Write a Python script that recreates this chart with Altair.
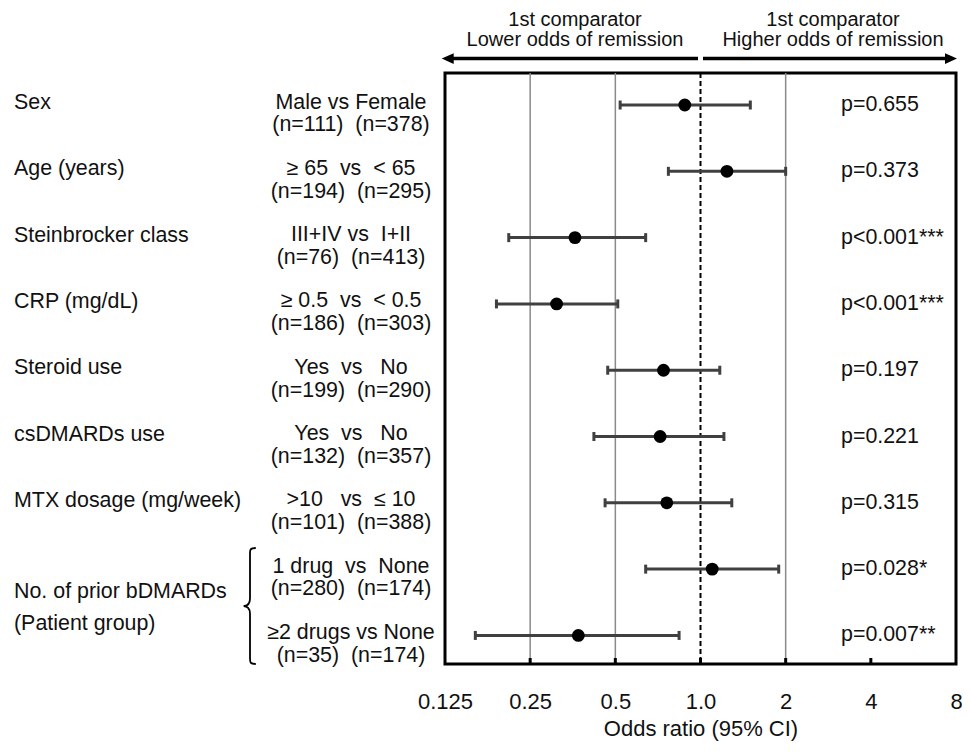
import altair as alt
import pandas as pd

# ---- data ----
rows = [1, 2, 3, 4, 5, 6, 7, 8, 9]
categories = ["Sex", "Age (years)", "Steinbrocker class", "CRP (mg/dL)", "Steroid use",
              "csDMARDs use", "MTX dosage (mg/week)", "", ""]
cmp_line1 = ["Male vs Female", "\u2265 65\u00a0 vs\u00a0 < 65", "III+IV vs\u00a0 I+II",
             "\u2265 0.5\u00a0 vs\u00a0 < 0.5", "Yes\u00a0 vs\u00a0\u00a0 No", "Yes\u00a0 vs\u00a0\u00a0 No",
             ">10\u00a0\u00a0 vs\u00a0 \u2264 10", "1 drug\u00a0 vs\u00a0 None", "\u22652 drugs vs None"]
cmp_line2 = ["(n=111)\u00a0 (n=378)", "(n=194)\u00a0 (n=295)", "(n=76)\u00a0 (n=413)",
             "(n=186)\u00a0 (n=303)", "(n=199)\u00a0 (n=290)", "(n=132)\u00a0 (n=357)",
             "(n=101)\u00a0 (n=388)", "(n=280)\u00a0 (n=174)", "(n=35)\u00a0 (n=174)"]
odds_ratio = [0.88, 1.24, 0.36, 0.31, 0.74, 0.72, 0.76, 1.10, 0.37]
ci_low = [0.52, 0.77, 0.21, 0.19, 0.47, 0.42, 0.46, 0.64, 0.16]
ci_high = [1.50, 2.00, 0.64, 0.51, 1.17, 1.21, 1.29, 1.89, 0.84]
p_values = ["p=0.655", "p=0.373", "p<0.001***", "p<0.001***", "p=0.197", "p=0.221",
            "p=0.315", "p=0.028*", "p=0.007**"]
group_label = ["No. of prior bDMARDs", "\u00a0(Patient group)"]
tick_values = [0.125, 0.25, 0.5, 1, 2, 4, 8]
grid_values = [0.25, 0.5, 2]
inner_ticks = [0.25, 0.5, 1, 2, 4]
ref_value = [1]
top_left = ["1st comparator", "Lower odds of remission"]
top_right = ["1st comparator", "Higher odds of remission"]

df = pd.DataFrame({"row": rows, "cat": categories, "l1": cmp_line1, "l2": cmp_line2,
                   "or": odds_ratio, "lo": ci_low, "hi": ci_high, "p": p_values})

W, H = 511, 591
FONT = "Liberation Sans"
TXT = "#111111"
FS = 21.4

xscale = alt.Scale(type="log", base=2, domain=[0.125, 8], nice=False)
yscale = alt.Scale(domain=[0.517, 9.431], reverse=True, nice=False, zero=False)

xaxis = alt.Axis(values=tick_values, grid=False, ticks=False, domain=False,
                 labelExpr="datum.value == 1 ? '1.0' : '' + datum.value",
                 labelFontSize=22, labelFont=FONT, labelColor=TXT, labelPadding=37,
                 labelBaseline="middle", labelFlush=False, labelOverlap=False,
                 title="Odds ratio (95% CI)", titleFontSize=22, titleFont=FONT,
                 titleFontWeight="normal", titleColor=TXT, titleBaseline="middle", titleY=64)

base = alt.Chart(df)

grid = alt.Chart(pd.DataFrame({"g": grid_values})).mark_rule(
    color="#8a8a8a", strokeWidth=1.5).encode(x=alt.X("g:Q", scale=xscale, axis=xaxis))

ref = alt.Chart(pd.DataFrame({"r": ref_value})).mark_rule(
    color="black", strokeWidth=2, strokeDash=[5, 3]).encode(x=alt.X("r:Q", scale=xscale))

ticks = alt.Chart(pd.DataFrame({"t": inner_ticks})).mark_rule(
    color="black", strokeWidth=3).encode(
    x=alt.X("t:Q", scale=xscale), y=alt.value(H - 6), y2=alt.value(H))

ybar = alt.Y("row:Q", scale=yscale, axis=None)

bars = base.mark_rule(color="#404040", strokeWidth=3).encode(
    x=alt.X("lo:Q", scale=xscale), x2="hi:Q", y=ybar)
cap_lo = base.mark_rule(color="#404040", strokeWidth=3, yOffset=-4.5, y2Offset=4.5).encode(
    x=alt.X("lo:Q", scale=xscale), y=ybar, y2="row:Q")
cap_hi = base.mark_rule(color="#404040", strokeWidth=3, yOffset=-4.5, y2Offset=4.5).encode(
    x=alt.X("hi:Q", scale=xscale), y=ybar, y2="row:Q")
points = base.mark_circle(color="black", size=165, opacity=1).encode(
    x=alt.X("or:Q", scale=xscale), y=ybar)

ptext = base.mark_text(align="left", baseline="middle", fontSize=FS, font=FONT, color=TXT).encode(
    x=alt.value(396), y=ybar, text="p:N")

cat_text = base.mark_text(align="left", baseline="middle", fontSize=FS, font=FONT, color=TXT,
                          yOffset=-2).encode(x=alt.value(-431), y=ybar, text="cat:N")
l1_text = base.mark_text(align="center", baseline="middle", fontSize=FS, font=FONT, color=TXT,
                         yOffset=-2.5).encode(x=alt.value(-94), y=ybar, text="l1:N")
l2_text = base.mark_text(align="center", baseline="middle", fontSize=FS, font=FONT, color=TXT,
                         yOffset=20.3).encode(x=alt.value(-94), y=ybar, text="l2:N")

grp = alt.Chart(pd.DataFrame({"t": group_label, "k": [0, 1]})).mark_text(
    align="left", baseline="middle", fontSize=FS, font=FONT, color=TXT).encode(
    x=alt.value(-431),
    y=alt.Y("k:Q", scale=alt.Scale(domain=[0, 1], range=[519, 551]), axis=None),
    text="t:N")

brace_path = ("M 0.1 -1 C 0 -1 0 -0.97 0 -0.9 L 0 -0.13 C 0 -0.04 -0.05 0 -0.11 0 "
              "C -0.05 0 0 0.04 0 0.13 L 0 0.9 C 0 0.97 0 1 0.1 1")
brace = alt.Chart(pd.DataFrame({"b": [0]})).mark_point(
    shape=brace_path, filled=False, stroke="black", strokeWidth=1.8, opacity=1,
    size=116 * 116).encode(x=alt.value(-195), y=alt.value(533))

# top arrows (gap at the 1.0 reference line)
shaft_l = alt.Chart(pd.DataFrame({"a": [0]})).mark_rule(color="black", strokeWidth=3.5).encode(
    x=alt.value(4), x2=alt.value(253), y=alt.value(-14.4))
shaft_r = alt.Chart(pd.DataFrame({"a": [0]})).mark_rule(color="black", strokeWidth=3.5).encode(
    x=alt.value(258), x2=alt.value(503), y=alt.value(-14.4))
head_l = alt.Chart(pd.DataFrame({"a": [0]})).mark_point(
    shape="M -1 0 L 1 -0.9 L 1 0.9 Z", filled=True, color="black", opacity=1, size=144).encode(
    x=alt.value(2.7), y=alt.value(-14.4))
head_r = alt.Chart(pd.DataFrame({"a": [0]})).mark_point(
    shape="M 1 0 L -1 -0.9 L -1 0.9 Z", filled=True, color="black", opacity=1, size=144).encode(
    x=alt.value(W - 5), y=alt.value(-14.4))

top_l = alt.Chart(pd.DataFrame({"t": top_left, "k": [0, 1]})).mark_text(
    align="center", baseline="middle", fontSize=20, font=FONT, color=TXT).encode(
    x=alt.value(130),
    y=alt.Y("k:Q", scale=alt.Scale(domain=[0, 1], range=[-53.4, -33.2]), axis=None),
    text="t:N")
top_r = alt.Chart(pd.DataFrame({"t": top_right, "k": [0, 1]})).mark_text(
    align="center", baseline="middle", fontSize=20, font=FONT, color=TXT).encode(
    x=alt.value(388),
    y=alt.Y("k:Q", scale=alt.Scale(domain=[0, 1], range=[-53.4, -33.2]), axis=None),
    text="t:N")

chart = alt.layer(
    grid, ref, ticks, bars, cap_lo, cap_hi, points, ptext, cat_text, l1_text, l2_text,
    grp, brace, shaft_l, shaft_r, head_l, head_r, top_l, top_r
).resolve_scale(y="independent").properties(
    width=W, height=H,
    autosize=alt.AutoSizeParams(type="none"),
    padding={"left": 437, "top": 65, "right": 6, "bottom": 80},
).configure_view(stroke="black", strokeWidth=3)

chart.save("out.html", embed_options={"renderer": "svg", "actions": False})
